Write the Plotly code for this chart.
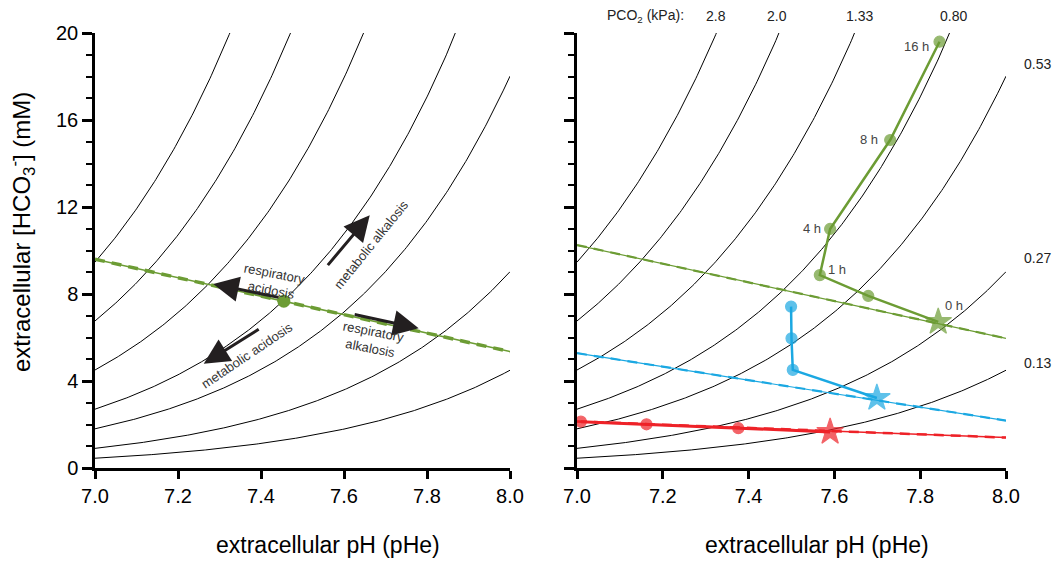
import numpy as np
import plotly.graph_objects as go

# ---------------- data ----------------
# PCO2 isopleths (kPa) and their labels
pco2_kpa = [2.8, 2.0, 1.333, 0.80, 0.533, 0.267, 0.133]
pco2_labels = ["2.8", "2.0", "1.33", "0.80", "0.53", "0.27", "0.13"]
hco3_per_kpa_at_ph7 = 3.38  # [HCO3-] (mM) per kPa PCO2 at pH 7.0 (Henderson-Hasselbalch)

# left panel: non-bicarbonate buffer line and control point
left_buf_ph = [7.0, 8.0]
left_buf_hco3 = [9.6, 5.35]
ctrl_ph = [7.455]
ctrl_hco3 = [7.67]

# right panel: buffer lines
green_buf_ph = [7.0, 8.0]
green_buf_hco3 = [10.25, 5.96]
blue_buf_ph = [7.0, 8.0]
blue_buf_hco3 = [5.28, 2.18]
red_buf_ph = [7.0, 8.0]
red_buf_hco3 = [2.14, 1.40]

# right panel: time courses (first point = 0 h, star)
green_ph = [7.842, 7.679, 7.566, 7.590, 7.730, 7.845]
green_hco3 = [6.72, 7.91, 8.87, 10.99, 15.08, 19.6]
green_times = ["0 h", "", "1 h", "4 h", "8 h", "16 h"]
blue_ph = [7.699, 7.503, 7.500, 7.499]
blue_hco3 = [3.22, 4.51, 5.96, 7.42]
red_ph = [7.590, 7.376, 7.162, 7.009]
red_hco3 = [1.66, 1.83, 2.01, 2.13]

x_ticks = [7.0, 7.2, 7.4, 7.6, 7.8, 8.0]
x_ticktext = ["7.0", "7.2", "7.4", "7.6", "7.8", "8.0"]
y_ticks = [0, 4, 8, 12, 16, 20]

GREEN = "#6c9c34"
BLUE = "#1ba8e2"
RED = "#ee2228"
DARK = "#231f20"
FONT = "Liberation Sans, Arial, sans-serif"

W, H = 1053, 561
fig = go.Figure()

ph_grid = np.linspace(7.0, 8.0, 301)

for ax in ["", "2"]:
    for p in pco2_kpa:
        fig.add_trace(go.Scatter(
            x=ph_grid, y=hco3_per_kpa_at_ph7 * p * 10 ** (ph_grid - 7.0),
            mode="lines", line=dict(color="black", width=1),
            xaxis="x" + ax, yaxis="y" + ax, showlegend=False, hoverinfo="skip"))


def buffer_line(xs, ys, color, ax, w_thin, w_dash):
    fig.add_trace(go.Scatter(x=xs, y=ys, mode="lines",
                             line=dict(color=color, width=w_thin),
                             xaxis="x" + ax, yaxis="y" + ax, showlegend=False))
    fig.add_trace(go.Scatter(x=xs, y=ys, mode="lines",
                             line=dict(color=color, width=w_dash, dash="10px,7px"),
                             xaxis="x" + ax, yaxis="y" + ax, showlegend=False))


buffer_line(left_buf_ph, left_buf_hco3, GREEN, "", 1.5, 3.5)
fig.add_trace(go.Scatter(x=ctrl_ph, y=ctrl_hco3, mode="markers",
                         marker=dict(color=GREEN, size=13), showlegend=False))

buffer_line(green_buf_ph, green_buf_hco3, GREEN, "2", 1.2, 2.2)
buffer_line(blue_buf_ph, blue_buf_hco3, BLUE, "2", 1.2, 2.2)
buffer_line(red_buf_ph, red_buf_hco3, RED, "2", 1.5, 2.5)


def series(xs, ys, color, width):
    symbols = ["star"] + ["circle"] * (len(xs) - 1)
    sizes = [20] + [11] * (len(xs) - 1)
    fig.add_trace(go.Scatter(x=xs, y=ys, mode="lines+markers",
                             line=dict(color=color, width=width),
                             marker=dict(color=color, symbol=symbols, size=sizes,
                                         line=dict(color=color, width=1.2)),
                             xaxis="x2", yaxis="y2", showlegend=False, cliponaxis=False))


series(green_ph, green_hco3, GREEN, 2.5)
series(blue_ph, blue_hco3, BLUE, 2.5)
series(red_ph, red_hco3, RED, 3)

axis_common = dict(showline=True, linecolor="black", linewidth=2.5, mirror=False,
                   showgrid=False, zeroline=False, ticks="outside", automargin=False,
                   tickcolor="black", tickwidth=2.5,
                   tickfont=dict(family=FONT, size=20, color="black"))

xd1 = [95 / W, 510 / W]
xd2 = [577 / W, 1006 / W]
yd = [(H - 468) / H, (H - 33) / H]

fig.update_layout(
    width=W, height=H, margin=dict(l=0, r=0, t=0, b=0, autoexpand=False),
    paper_bgcolor="white", plot_bgcolor="white", showlegend=False,
    font=dict(family=FONT),
    xaxis=dict(domain=xd1, range=[7.0, 8.0], tickvals=x_ticks, ticktext=x_ticktext,
               ticklen=8, anchor="y", **axis_common),
    yaxis=dict(domain=yd, range=[0, 20], tickvals=y_ticks, ticklen=10, anchor="x",
               minor=dict(ticks="outside", ticklen=6, tickwidth=2, dtick=1, tickcolor="black"),
               **axis_common),
    xaxis2=dict(domain=xd2, range=[7.0, 8.0], tickvals=x_ticks, ticktext=x_ticktext,
                ticklen=8, anchor="y2", **axis_common),
    yaxis2=dict(domain=yd, range=[0, 20], tickvals=y_ticks, ticklen=10, anchor="x2",
                showticklabels=False,
                minor=dict(ticks="outside", ticklen=6, tickwidth=2, dtick=1, tickcolor="black"),
                **axis_common),
)

ann = []


def px(xp, yp):
    return xp / W, 1 - yp / H


def text_at(xp, yp, txt, font, angle=0):
    a, b = px(xp, yp)
    ann.append(dict(x=a, y=b, xref="paper", yref="paper", showarrow=False, text=txt,
                    xanchor="center", yanchor="middle", textangle=angle, font=font))


# axis titles
for xc in [328, 817]:
    text_at(xc, 545, "extracellular pH (pHe)", dict(size=23, color="black"))
text_at(22, 232, "extracellular [HCO<sub>3</sub><sup>-</sup>] (mM)",
        dict(size=24, color="black"), -90)

# arrows on left panel: (tail_x, tail_y, head_x, head_y)
arrows = [
    (7.446, 7.83, 7.285, 8.46),   # respiratory acidosis
    (7.622, 7.07, 7.78, 6.42),    # respiratory alkalosis
    (7.558, 9.26, 7.662, 11.62),  # metabolic alkalosis
    (7.398, 6.42, 7.262, 4.79),   # metabolic acidosis
]
for tx, ty, hx, hy in arrows:
    ann.append(dict(x=hx, y=hy, ax=tx, ay=ty, xref="x", yref="y", axref="x", ayref="y",
                    text="", showarrow=True, arrowhead=2, arrowsize=1.7, arrowwidth=3,
                    arrowcolor=DARK, standoff=0, startstandoff=0))

lab_font = dict(size=13, color="#333333")
for txt, xp, yp, ang in [
    ("respiratory<br>acidosis", 273, 282, 11),
    ("respiratory<br>alkalosis", 372, 340, 11),
    ("metabolic alkalosis", 371, 244, -51),
    ("metabolic acidosis", 247, 356, -34),
]:
    text_at(xp, yp, txt, lab_font, ang)

# PCO2 labels
lbl_font = dict(size=14, color="#222222")
text_at(645, 16, "PCO<sub>2</sub> (kPa):", lbl_font)
top_pos = [715.7, 776.7, 859, 953.3]
for lbl, xp in zip(pco2_labels[:4], top_pos):
    text_at(xp, 16, lbl, lbl_font)
side_pos = [64, 258, 363]
for lbl, yp in zip(pco2_labels[4:], side_pos):
    text_at(1037, yp, lbl, lbl_font)

# time labels
time_pos = {"0 h": (954, 305), "1 h": (837, 270), "4 h": (812, 228),
            "8 h": (869, 139), "16 h": (916, 47)}
for t in green_times:
    if t:
        xp, yp = time_pos[t]
        text_at(xp, yp, t, dict(size=13, color="#444444"))

fig.update_layout(annotations=ann)
fig.write_html("out.html", config={"displayModeBar": False},
               post_script="document.body.style.margin='0';")
